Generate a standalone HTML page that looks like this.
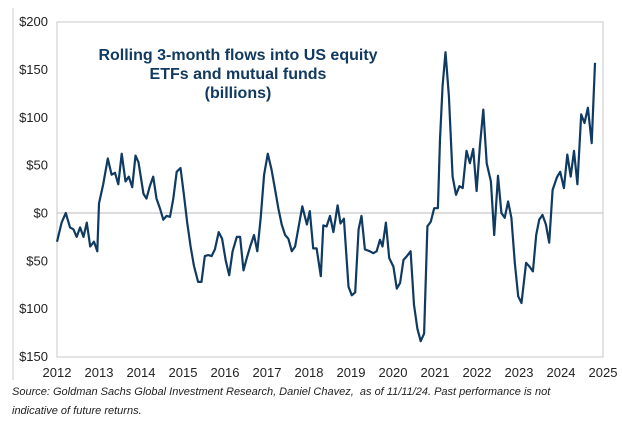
<!DOCTYPE html>
<html><head><meta charset="utf-8"><style>
html,body{margin:0;padding:0;background:#fff;}
body{width:622px;height:423px;overflow:hidden;position:relative;font-family:"Liberation Sans",sans-serif;}
.src{position:absolute;left:12px;font-style:italic;font-size:11px;color:#222;}
</style></head><body>
<svg width="622" height="423" style="position:absolute;left:0;top:0">
<line x1="13" y1="8" x2="13" y2="380" stroke="#ccc" stroke-width="1"/>
<rect x="57" y="22" width="546" height="335" fill="none" stroke="#c8c8c8" stroke-width="1"/>
<g id="yaxis"></g>
<g id="xaxis"></g>
<g id="series"></g>
<g font-family="Liberation Sans, sans-serif" font-weight="bold" font-size="16" fill="#123a61" text-anchor="middle">
<text x="238" y="60">Rolling 3-month flows into US equity</text>
<text x="238" y="79">ETFs and mutual funds</text>
<text x="238" y="98">(billions)</text>
</g>
</svg>
<div class="src" style="top:386px">Source: Goldman Sachs Global Investment Research, Daniel Chavez,&nbsp; as of 11/11/24. Past performance is not</div>
<div class="src" style="top:405px">indicative of future returns.</div>
<script>
const yTicks=[200,150,100,50,0,-50,-100,-150];
const yTickLabels=["$200","$150","$100","$50","$0","$50","$100","$150"];
const xTicks=[2012,2013,2014,2015,2016,2017,2018,2019,2020,2021,2022,2023,2024,2025];
const dates=[2012.00,2012.11,2012.21,2012.31,2012.39,2012.47,2012.55,2012.63,2012.71,2012.79,2012.88,2012.96,
2013.00,2013.10,2013.21,2013.30,2013.38,2013.46,2013.54,2013.63,2013.71,2013.79,2013.87,2013.94,
2014.06,2014.13,2014.21,2014.29,2014.37,2014.45,2014.53,2014.61,2014.69,2014.77,2014.85,2014.94,
2015.02,2015.10,2015.18,2015.26,2015.36,2015.44,2015.52,2015.60,2015.68,2015.76,2015.85,2015.93,
2016.02,2016.10,2016.18,2016.28,2016.36,2016.44,2016.52,2016.60,2016.69,2016.77,2016.85,2016.93,
2017.02,2017.11,2017.19,2017.27,2017.35,2017.43,2017.51,2017.59,2017.67,2017.75,2017.84,2017.95,
2018.02,2018.10,2018.18,2018.28,2018.34,2018.42,2018.50,2018.58,2018.68,2018.75,2018.83,2018.94,
2019.02,2019.10,2019.18,2019.25,2019.33,2019.45,2019.53,2019.61,2019.69,2019.75,2019.83,2019.91,
2020.01,2020.09,2020.17,2020.25,2020.33,2020.42,2020.50,2020.58,2020.66,2020.74,2020.82,2020.90,2020.98,
2021.07,2021.12,2021.18,2021.25,2021.33,2021.42,2021.50,2021.58,2021.66,2021.75,2021.83,2021.91,2021.99,
2022.07,2022.15,2022.23,2022.33,2022.41,2022.50,2022.58,2022.66,2022.74,2022.82,2022.90,2022.98,
2023.06,2023.17,2023.25,2023.33,2023.41,2023.48,2023.56,2023.64,2023.72,2023.80,2023.90,2023.98,
2024.07,2024.15,2024.23,2024.31,2024.39,2024.48,2024.56,2024.64,2024.73,2024.81];
const flows=[-30,-10,0,-15,-17,-25,-15,-25,-10,-35,-30,-40,
10,30,57,40,42,30,62,33,38,27,60,53,
20,15,28,38,15,5,-7,-3,-4,15,43,47,
20,-10,-35,-55,-72,-72,-45,-44,-45,-38,-20,-27,
-50,-65,-40,-25,-25,-60,-47,-35,-23,-40,-5,40,
62,45,25,5,-12,-23,-27,-40,-35,-15,7,-12,
2,-37,-37,-66,-13,-14,-3,-20,8,-11,-6,-77,
-86,-83,-17,-3,-38,-40,-42,-40,-28,-35,-10,-47,
-56,-79,-73,-49,-45,-40,-96,-121,-134,-126,-14,-9,5,
5,77,133,168,122,38,19,28,26,65,52,67,23,
70,108,52,33,-23,39,0,-5,12,-5,-52,-87,
-94,-52,-56,-61,-23,-7,-2,-12,-31,24,37,43,
26,61,38,65,30,103,94,110,73,157];
const NS="http://www.w3.org/2000/svg";
function xs(t){return 57+(t-2012)*42;}
function ys(v){return 213-v*0.957;}
const ya=document.getElementById('yaxis');
yTicks.forEach((v,i)=>{
  if(v===0){const l=document.createElementNS(NS,'line');
    l.setAttribute('x1',57);l.setAttribute('x2',603);l.setAttribute('y1',ys(0));l.setAttribute('y2',ys(0));
    l.setAttribute('stroke','#bbb');l.setAttribute('stroke-width','1');
    
    
    ya.appendChild(l);}
  const t=document.createElementNS(NS,'text');
  t.setAttribute('x',48);t.setAttribute('y',ys(v)+4.5);t.setAttribute('text-anchor','end');
  t.setAttribute('font-size','13');t.setAttribute('fill','#222');t.setAttribute('font-family','Liberation Sans, sans-serif');
  t.textContent=yTickLabels[i];
  
  
  ya.appendChild(t);
});
const xa=document.getElementById('xaxis');
xTicks.forEach(y=>{
  const t=document.createElementNS(NS,'text');
  t.setAttribute('x',xs(y));t.setAttribute('y',377);t.setAttribute('text-anchor','middle');
  t.setAttribute('font-size','13');t.setAttribute('fill','#222');t.setAttribute('font-family','Liberation Sans, sans-serif');
  t.textContent=y;
  
  
  xa.appendChild(t);
});
const p=document.createElementNS(NS,'path');
p.setAttribute('d',flows.map((v,i)=>(i?'L':'M')+xs(dates[i]).toFixed(1)+' '+ys(v).toFixed(1)).join(' '));
p.setAttribute('fill','none');p.setAttribute('stroke','#0f3a62');p.setAttribute('stroke-width','2.2');p.setAttribute('stroke-linejoin','round');


document.getElementById('series').appendChild(p);
</script>
</body></html>
